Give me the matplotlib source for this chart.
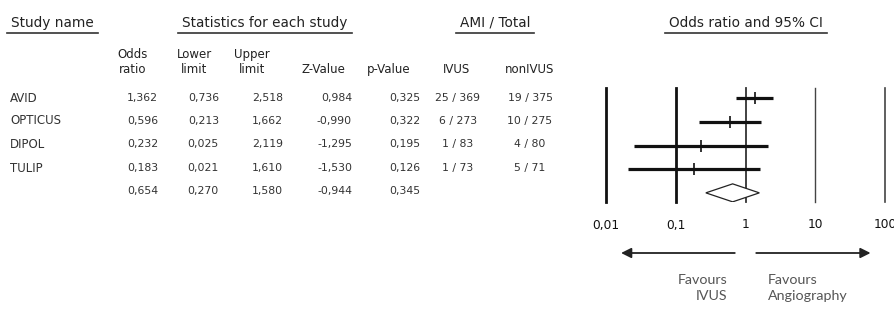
import numpy as np
import matplotlib
matplotlib.use('Agg')
import matplotlib.pyplot as plt
from matplotlib.lines import Line2D
import matplotlib.transforms as mtransforms

# data
studies = ['AVID', 'OPTICUS', 'DIPOL', 'TULIP', '']
odds_ratio = [1.362, 0.596, 0.232, 0.183, 0.654]
lower_limit = [0.736, 0.213, 0.025, 0.021, 0.270]
upper_limit = [2.518, 1.662, 2.119, 1.610, 1.580]
z_value = [0.984, -0.990, -1.295, -1.530, -0.944]
p_value = [0.325, 0.322, 0.195, 0.126, 0.345]
ivus = ['25 / 369', '6 / 273', '1 / 83', '1 / 73', '']
non_ivus = ['19 / 375', '10 / 275', '4 / 80', '5 / 71', '']
ticks = [0.01, 0.1, 1, 10, 100]
tick_labels = ['0,01', '0,1', '1', '10', '100']

W, H = 894, 309
fig = plt.figure(figsize=(W / 100, H / 100), dpi=100)
fig.patch.set_facecolor('white')

def fx(px):
    return px / W

def fy(py):
    return 1 - py / H

def fmt(v):
    return f'{v:.3f}'.replace('.', ',')

txt_col = '#333333'
fs_num = 7.8
fs_lab = 8.5
row_y = [98, 121, 144, 168, 191]

# group headers with underline
headers = [('Study name', 11, 'left'), ('Statistics for each study', 265, 'center'),
           ('AMI / Total', 495, 'center'), ('Odds ratio and 95% CI', 746, 'center')]
fig.canvas.draw()
renderer = fig.canvas.get_renderer()
for label, x, ha in headers:
    t = fig.text(fx(x), fy(23), label, ha=ha, va='center', fontsize=9.8, color='#222222')
    bb = t.get_window_extent(renderer).transformed(fig.transFigure.inverted())
    pad = 4 / W
    fig.add_artist(Line2D([bb.x0 - pad, bb.x1 + pad], [fy(33), fy(33)],
                          transform=fig.transFigure, color='#333333', lw=1.2))

# column headers
col_heads = [('Odds\nratio', 133), ('Lower\nlimit', 194), ('Upper\nlimit', 252),
             ('Z-Value', 323), ('p-Value', 389), ('IVUS', 457), ('nonIVUS', 530)]
for label, x in col_heads:
    fig.text(fx(x), fy(73), label, ha='center', va='baseline', fontsize=fs_lab,
             color='#222222', multialignment='center', linespacing=1.2)

# table rows
num_cols = [(odds_ratio, 158), (lower_limit, 219), (upper_limit, 283), (z_value, 352), (p_value, 420)]
for i, y in enumerate(row_y):
    fig.text(fx(10), fy(y), studies[i], ha='left', va='center', fontsize=fs_lab, color=txt_col)
    for vals, x in num_cols:
        fig.text(fx(x), fy(y), fmt(vals[i]), ha='right', va='center', fontsize=fs_num, color=txt_col)
    fig.text(fx(458), fy(y), ivus[i], ha='center', va='center', fontsize=fs_num, color=txt_col)
    fig.text(fx(530), fy(y), non_ivus[i], ha='center', va='center', fontsize=fs_num, color=txt_col)

# forest plot axes
ax = fig.add_axes([fx(606), fy(202), fx(885 - 606), (202 - 88) / H])
ax.set_xscale('log')
ax.set_xlim(0.01, 100)
ax.set_ylim(4 + 9 / 23.3, -10 / 23.3)
for s in ax.spines.values():
    s.set_visible(False)
ax.set_xticks([])
ax.set_yticks([])
ax.minorticks_off()

vl_width = [2.0, 2.0, 1.3, 1.0, 1.2]
vl_col = ['#111111', '#111111', '#333333', '#444444', '#444444']
for t, lw, c in zip(ticks, vl_width, vl_col):
    ax.axvline(t, color=c, lw=lw, clip_on=False, zorder=1)

n = len(studies) - 1
for i in range(n):
    ax.hlines(i, lower_limit[i], upper_limit[i], color='#111111', lw=2.3, zorder=3)
    ax.plot(odds_ratio[i], i, marker='|', ms=9, mew=1.2, color='#111111', zorder=4)

# summary diamond
k = n
dx = [lower_limit[k], odds_ratio[k], upper_limit[k], odds_ratio[k]]
dy = [k, k - 0.38, k, k + 0.38]
ax.fill(dx, dy, facecolor='white', edgecolor='#222222', lw=0.9, zorder=5)

# tick labels
trans = mtransforms.blended_transform_factory(ax.transData, ax.transAxes)
for t, lab in zip(ticks, tick_labels):
    ax.text(t, -23 / 114, lab, transform=trans, ha='center', va='center',
            fontsize=8.8, color='#111111', clip_on=False)

# favour arrows
arrow_y = -51 / 114
ax.annotate('', xy=(0.015, arrow_y), xytext=(0.77, arrow_y), xycoords=trans, textcoords=trans,
            arrowprops=dict(arrowstyle='-|>', color='#222222', lw=1.3, mutation_scale=15))
ax.annotate('', xy=(68, arrow_y), xytext=(1.3, arrow_y), xycoords=trans, textcoords=trans,
            arrowprops=dict(arrowstyle='-|>', color='#222222', lw=1.3, mutation_scale=15))
ax.text(0.55, -86 / 114, 'Favours\nIVUS', transform=trans, ha='right', va='center',
        fontsize=10.3, family='Lato', color='#555555', multialignment='right', linespacing=1.5)
ax.text(2.07, -86 / 114, 'Favours\nAngiography', transform=trans, ha='left', va='center',
        fontsize=10.3, family='Lato', color='#555555', multialignment='left', linespacing=1.5)

fig.savefig('out.png', dpi=100, facecolor='white')
